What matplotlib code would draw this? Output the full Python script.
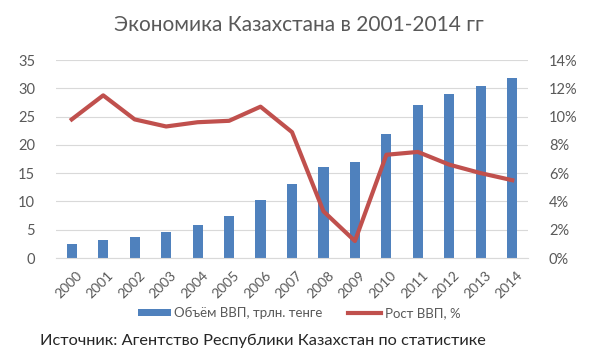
import numpy as np
import matplotlib.pyplot as plt
import matplotlib.transforms as mtransforms
from matplotlib.ticker import PercentFormatter

plt.rcParams['font.family'] = ['Lato', 'DejaVu Sans']

years = [str(y) for y in range(2000, 2015)]
gdp = [2.5, 3.2, 3.8, 4.6, 5.8, 7.5, 10.2, 13.0, 16.0, 17.0, 22.0, 27.0, 29.0, 30.4, 31.9]
growth = [9.8, 11.5, 9.8, 9.3, 9.6, 9.7, 10.7, 8.9, 3.3, 1.2, 7.3, 7.5, 6.6, 6.0, 5.5]

txt = '#595959'
fig = plt.figure(figsize=(5.98, 3.56), dpi=100)
ax = fig.add_axes([56/598, 1 - 258/356, (528 - 56)/598, (258 - 60)/356])
x = np.arange(len(years))
ax.bar(x, gdp, width=0.32, color='#4F81BD', label='Объём ВВП, трлн. тенге', zorder=2)
ax.set_ylim(0, 35)
ax.set_yticks(range(0, 36, 5))
ax.set_xlim(-0.5, len(years) - 0.5)
ax.set_xticks(x)
ax.set_xticklabels(years, rotation=45, ha='right', rotation_mode='anchor')
ax.grid(axis='y', color='#D9D9D9', lw=0.8, zorder=0)
ax.set_axisbelow(True)

ax2 = ax.twinx()
ax2.plot(x, growth, color='#C0504D', lw=3, label='Рост ВВП, %', zorder=3)
ax2.set_ylim(0, 14)
ax2.set_yticks(range(0, 15, 2))
ax2.yaxis.set_major_formatter(PercentFormatter(decimals=0))

for a in (ax, ax2):
    for s in a.spines.values():
        s.set_visible(False)
    a.tick_params(axis='y', length=0, labelsize=10.5, colors=txt, pad=15)
ax.tick_params(axis='x', length=0, labelsize=10, colors=txt, pad=8)
ax.spines['bottom'].set_visible(True)
ax.spines['bottom'].set_color('#D9D9D9')

# nudge rotated year labels a little to the right, as in the original
shift = mtransforms.ScaledTranslation(4/100, 0, fig.dpi_scale_trans)
for lbl in ax.get_xticklabels():
    lbl.set_transform(lbl.get_transform() + shift)

fig.text(0.5, 1 - 25/356, 'Экономика Казахстана в 2001-2014 гг', ha='center', va='center',
         fontsize=15, color=txt)
h1, l1 = ax.get_legend_handles_labels()
h2, l2 = ax2.get_legend_handles_labels()
fig.legend(h1 + h2, l1 + l2, loc='center', bbox_to_anchor=(0.5, 1 - 313/356), ncol=2,
           frameon=False, fontsize=9.5, labelcolor=txt, handlelength=2.5,
           handleheight=0.5, handletextpad=0.3, columnspacing=1.9)
fig.text(40/598, 1 - 341/356, 'Источник: Агентство Республики Казахстан по статистике',
         ha='left', va='center', fontsize=11.8, color='#262626')

fig.savefig('out.png', dpi=100)
